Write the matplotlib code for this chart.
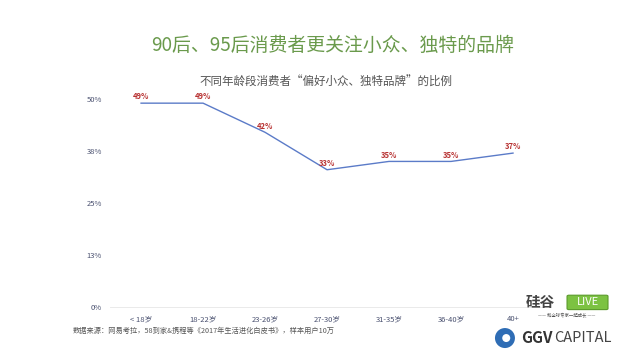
import matplotlib.pyplot as plt
from matplotlib.patches import FancyBboxPatch, Ellipse

plt.rcParams['font.family'] = ['Noto Sans CJK SC', 'DejaVu Sans']

# ---- data ----
ages = ['< 18岁', '18-22岁', '23-26岁', '27-30岁', '31-35岁', '36-40岁', '40+']
share = [49, 49, 42, 33, 35, 35, 37]
yticks = [0, 12.5, 25, 37.5, 50]
ytick_labels = ['0%', '13%', '25%', '38%', '50%']

title = '90后、95后消费者更关注小众、独特的品牌'
subtitle = '不同年龄段消费者“偏好小众、独特品牌”的比例'
source = '数据来源：网易考拉，58到家&携程等《2017年生活进化白皮书》，样本用户10万'

fig = plt.figure(figsize=(6.4, 3.6), dpi=100)
ax = fig.add_axes([0.172, 0.147, 0.678, 0.578])

x = list(range(len(ages)))
ax.plot(x, share, color='#5b7bc8', lw=1.0)
for xi, v in zip(x, share):
    ax.text(xi, v + 0.4, f'{v}%', ha='center', va='bottom', fontsize=5.5,
            color='#b83232', fontweight='bold')

ax.set_xlim(-0.5, 6.5)
ax.set_ylim(0, 50)
ax.set_xticks(x)
ax.set_xticklabels(ages)
ax.set_yticks(yticks)
ax.set_yticklabels(ytick_labels)
ax.tick_params(length=0, labelsize=5.5, colors='#4a5170', pad=6)
for s in ['top', 'right', 'left']:
    ax.spines[s].set_visible(False)
ax.spines['bottom'].set_color('#e6e6e6')
ax.spines['bottom'].set_linewidth(0.6)

fig.text(0.519, 0.875, title, ha='center', va='center', fontsize=13.6, color='#6a9a4c')
fig.text(0.51, 0.772, subtitle, ha='center', va='center', fontsize=8.3, color='#555555')
fig.text(0.114, 0.082, source, ha='left', va='center', fontsize=5.2, color='#555555')

# ---- logos ----
fig.text(0.822, 0.16, '硅谷', ha='left', va='center', fontsize=10.5, color='#444444',
         fontweight='bold', style='italic')
fig.patches.append(FancyBboxPatch((0.889, 0.143), 0.058, 0.034, boxstyle='round,pad=0.003',
                                  transform=fig.transFigure, fc='#7cc242', ec='#5a9a2a', lw=0.8))
fig.text(0.918, 0.16, 'LIVE', ha='center', va='center', fontsize=8, color='white',
         style='italic')
fig.text(0.886, 0.125, '—— 和全球专家一起成长 ——', ha='center', va='center', fontsize=3.2,
         color='#555555')
fig.patches.append(Ellipse((0.789, 0.061), 20 / 640, 20 / 360, transform=fig.transFigure,
                           fc='#2f6db5', ec='none'))
fig.patches.append(Ellipse((0.791, 0.061), 8 / 640, 8 / 360, transform=fig.transFigure,
                           fc='white', ec='none'))
fig.text(0.814, 0.061, 'GGV', ha='left', va='center', fontsize=11, color='#333333',
         fontweight='bold')
fig.text(0.866, 0.061, 'CAPITAL', ha='left', va='center', fontsize=10.5, color='#444444',
         fontweight='light')

fig.savefig('out.png', dpi=100)
